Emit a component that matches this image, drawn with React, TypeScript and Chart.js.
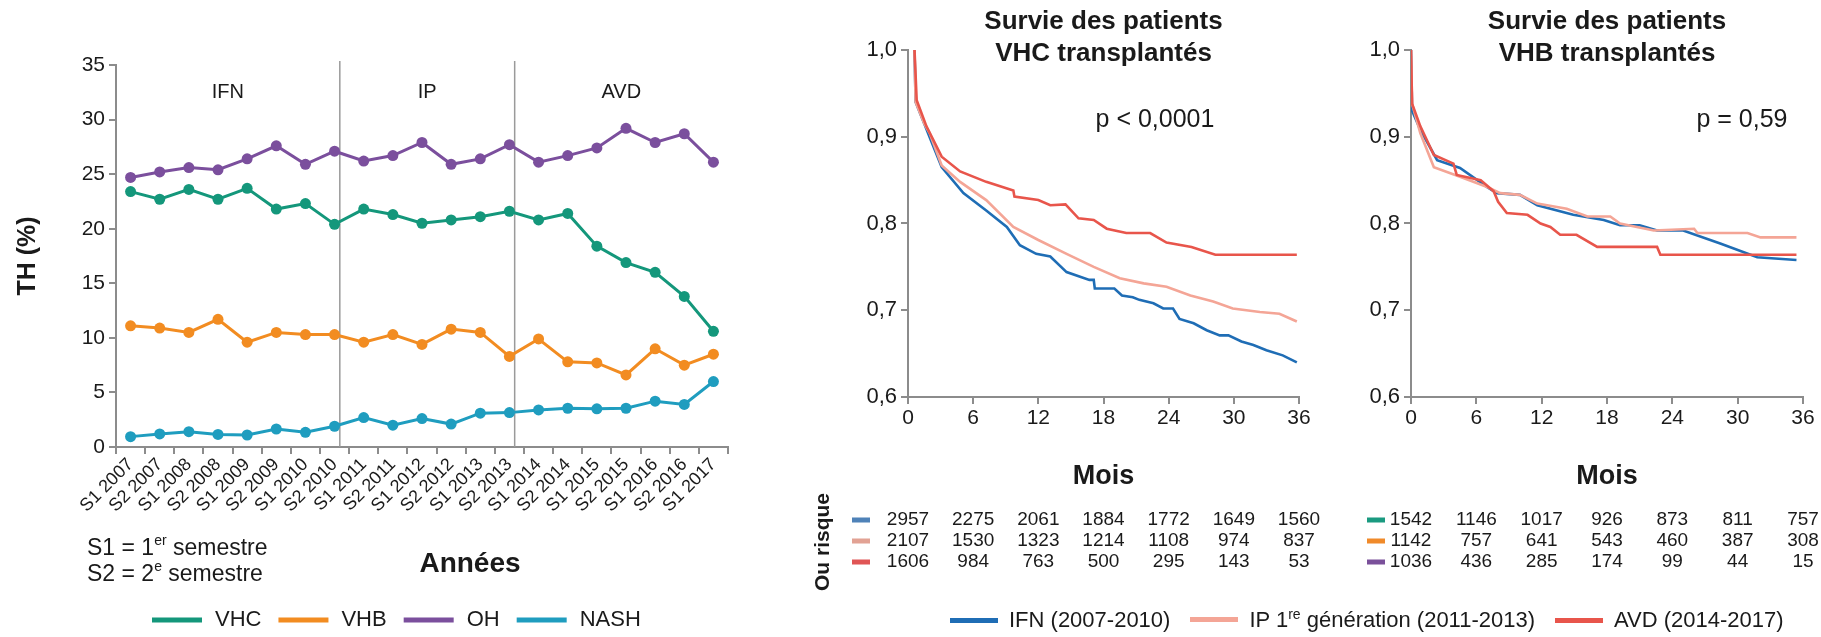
import React, { useEffect, useRef } from "react";
import { Chart, registerables } from "chart.js";

Chart.register(...registerables);

const FONT = "'Liberation Sans', Arial, Helvetica, sans-serif";
const AXIS_GRAY = "#8c8c8c";
const TEXT = "#1a1a1a";

// ---------- Left panel: TH (%) by semester ----------
const semesters = [
  "S1 2007", "S2 2007", "S1 2008", "S2 2008", "S1 2009", "S2 2009", "S1 2010", "S2 2010",
  "S1 2011", "S2 2011", "S1 2012", "S2 2012", "S1 2013", "S2 2013",
  "S1 2014", "S2 2014", "S1 2015", "S2 2015", "S1 2016", "S2 2016", "S1 2017",
];
const vhcRate = [23.4, 22.7, 23.6, 22.7, 23.7, 21.8, 22.3, 20.4, 21.8, 21.3, 20.5, 20.8, 21.1, 21.6, 20.8, 21.4, 18.4, 16.9, 16.0, 13.8, 10.6];
const vhbRate = [11.1, 10.9, 10.5, 11.7, 9.6, 10.5, 10.3, 10.3, 9.6, 10.3, 9.4, 10.8, 10.5, 8.3, 9.9, 7.8, 7.7, 6.6, 9.0, 7.5, 8.5];
const ohRate = [24.7, 25.2, 25.6, 25.4, 26.4, 27.6, 25.9, 27.1, 26.2, 26.7, 27.9, 25.9, 26.4, 27.7, 26.1, 26.7, 27.4, 29.2, 27.9, 28.7, 26.1];
const nashRate = [0.95, 1.2, 1.4, 1.15, 1.1, 1.65, 1.35, 1.9, 2.7, 2.0, 2.6, 2.1, 3.1, 3.15, 3.4, 3.55, 3.5, 3.55, 4.2, 3.9, 6.0];
const seriesNames = ["VHC", "VHB", "OH", "NASH"];
const seriesColors = ["#14977b", "#f28c21", "#7b4f9d", "#1f9dbf"];
const periodLabels = ["IFN", "IP", "AVD"];
const periodEnds = [7, 13]; // index of last semester of IFN and IP periods
const yTicksTH = { min: 0, max: 35, step: 5 };

// ---------- Survival panels ----------
const survTicks = { min: 0.6, max: 1.0, step: 0.1 };
const monthTicks = { min: 0, max: 36, step: 6 };
const groupNames = ["IFN (2007-2010)", "IP 1re génération (2011-2013)", "AVD (2014-2017)"];
const groupColors = ["#1f6db5", "#f4a596", "#e8554b"];

const vhcIfnMonths = [0.6, 0.7, 1.5, 2.2, 3.1, 5.1, 7.2, 9.1, 10.3, 11.8, 13.1, 14.6, 16.7, 17.1, 17.2, 19.0, 19.7, 20.7, 21.3, 22.6, 23.5, 24.4, 25.0, 26.3, 27.5, 28.7, 29.5, 30.7, 31.8, 33.0, 34.5, 35.8];
const vhcIfnSurv = [1.0, 0.94, 0.915, 0.893, 0.865, 0.835, 0.815, 0.796, 0.775, 0.765, 0.762, 0.744, 0.735, 0.735, 0.725, 0.725, 0.717, 0.715, 0.712, 0.708, 0.702, 0.702, 0.69, 0.685, 0.677, 0.671, 0.671, 0.664, 0.66, 0.654, 0.648, 0.64];
const vhcIpMonths = [0.6, 0.7, 1.5, 2.0, 3.1, 4.8, 7.2, 9.7, 12.0, 14.6, 17.1, 19.5, 21.7, 23.8, 26.0, 28.1, 29.9, 32.4, 34.2, 35.8];
const vhcIpSurv = [1.0, 0.94, 0.915, 0.904, 0.867, 0.848, 0.827, 0.796, 0.781, 0.765, 0.75, 0.737, 0.731, 0.727, 0.717, 0.71, 0.702, 0.698, 0.696, 0.687];
const vhcAvdMonths = [0.6, 0.8, 1.7, 3.1, 4.8, 7.2, 9.7, 9.8, 12.0, 13.1, 14.5, 15.7, 17.1, 18.3, 20.1, 22.3, 23.8, 26.1, 28.3, 35.8];
const vhcAvdSurv = [1.0, 0.942, 0.912, 0.877, 0.86, 0.848, 0.838, 0.831, 0.827, 0.821, 0.822, 0.806, 0.804, 0.794, 0.789, 0.789, 0.778, 0.773, 0.764, 0.764];

const vhbIfnMonths = [0, 0.1, 0.86, 2.4, 4.5, 7.0, 7.9, 10.0, 11.6, 14.9, 17.7, 19.2, 21.0, 22.6, 25.0, 28.4, 31.8, 35.4];
const vhbIfnSurv = [1.0, 0.93, 0.908, 0.873, 0.864, 0.842, 0.835, 0.833, 0.821, 0.81, 0.804, 0.798, 0.798, 0.792, 0.792, 0.777, 0.761, 0.758];
const vhbIpMonths = [0, 0.1, 0.86, 2.1, 4.5, 7.0, 8.2, 10.0, 11.6, 14.3, 16.2, 18.3, 19.2, 22.3, 26.0, 26.3, 30.9, 32.1, 35.4];
const vhbIpSurv = [1.0, 0.938, 0.904, 0.865, 0.854, 0.842, 0.835, 0.833, 0.823, 0.817, 0.808, 0.808, 0.8, 0.792, 0.794, 0.789, 0.789, 0.784, 0.784];
const vhbAvdMonths = [0, 0.1, 0.86, 2.1, 3.9, 4.2, 6.4, 7.6, 8.0, 8.8, 10.7, 11.9, 12.8, 13.7, 15.2, 17.1, 22.6, 22.9, 35.4];
const vhbAvdSurv = [1.0, 0.938, 0.912, 0.879, 0.869, 0.856, 0.85, 0.837, 0.825, 0.812, 0.81, 0.8, 0.796, 0.787, 0.787, 0.773, 0.773, 0.764, 0.764];

const riskMonths = [0, 6, 12, 18, 24, 30, 36];
const vhcRiskIfn = [2957, 2275, 2061, 1884, 1772, 1649, 1560];
const vhcRiskIp = [2107, 1530, 1323, 1214, 1108, 974, 837];
const vhcRiskAvd = [1606, 984, 763, 500, 295, 143, 53];
const vhbRiskIfn = [1542, 1146, 1017, 926, 873, 811, 757];
const vhbRiskIp = [1142, 757, 641, 543, 460, 387, 308];
const vhbRiskAvd = [1036, 436, 285, 174, 99, 44, 15];
const vhcRiskMarkers = ["#4f82b8", "#e2a294", "#e05555"];
const vhbRiskMarkers = ["#1a9a80", "#f08a2a", "#7a509a"];

type Part = { t: string; sup?: boolean };

function drawRich(
  ctx: CanvasRenderingContext2D,
  parts: Part[],
  x: number,
  y: number,
  size: number,
  align: "left" | "center",
  weight = "normal",
  color = TEXT
) {
  ctx.save();
  ctx.textBaseline = "middle";
  ctx.textAlign = "left";
  ctx.fillStyle = color;
  const fontFor = (p: Part) => `${weight} ${p.sup ? Math.round(size * 0.62) : size}px ${FONT}`;
  const widths = parts.map((p) => {
    ctx.font = fontFor(p);
    return ctx.measureText(p.t).width;
  });
  const total = widths.reduce((a, b) => a + b, 0);
  let cx = align === "center" ? x - total / 2 : x;
  parts.forEach((p, i) => {
    ctx.font = fontFor(p);
    ctx.fillText(p.t, cx, p.sup ? y - size * 0.32 : y);
    cx += widths[i];
  });
  ctx.restore();
}

const pts = (xs: number[], ys: number[]) => xs.map((x, i) => ({ x, y: ys[i] }));

function App() {
  const aRef = useRef<HTMLCanvasElement>(null);
  const bRef = useRef<HTMLCanvasElement>(null);
  const cRef = useRef<HTMLCanvasElement>(null);

  useEffect(() => {
    const charts: Chart[] = [];

    // ---------------- Left chart ----------------
    const leftDecor = {
      id: "leftDecor",
      beforeDatasetsDraw(chart: any) {
        const { ctx, chartArea, scales } = chart;
        const x = scales.x;
        const cw = (chartArea.right - chartArea.left) / semesters.length;
        ctx.save();
        ctx.strokeStyle = "#9a9a9a";
        ctx.lineWidth = 1.5;
        periodEnds.forEach((i) => {
          const px = x.getPixelForValue(i) + cw * 0.18;
          ctx.beginPath();
          ctx.moveTo(px, chartArea.top - 4);
          ctx.lineTo(px, chartArea.bottom);
          ctx.stroke();
        });
        ctx.restore();
      },
      afterDraw(chart: any) {
        const { ctx, chartArea, scales } = chart;
        const x = scales.x;
        const cw = (chartArea.right - chartArea.left) / semesters.length;
        const bounds = [chartArea.left, ...periodEnds.map((i) => x.getPixelForValue(i) + cw * 0.18), chartArea.right];
        periodLabels.forEach((lab, i) => {
          drawRich(ctx, [{ t: lab }], (bounds[i] + bounds[i + 1]) / 2, 92, 20, "center");
        });
        drawRich(ctx, [{ t: "S1 = 1" }, { t: "er", sup: true }, { t: " semestre" }], 87, 549, 23, "left");
        drawRich(ctx, [{ t: "S2 = 2" }, { t: "e", sup: true }, { t: " semestre" }], 87, 575, 23, "left");
        drawRich(ctx, [{ t: "Années" }], 470, 564, 28, "center", "bold");
        // legend
        ctx.save();
        let lx = 152;
        const ly = 620;
        ctx.font = `22px ${FONT}`;
        seriesNames.forEach((n, i) => {
          ctx.fillStyle = seriesColors[i];
          ctx.fillRect(lx, ly - 2.5, 50, 5);
          ctx.fillStyle = TEXT;
          ctx.textBaseline = "middle";
          ctx.textAlign = "left";
          ctx.fillText(n, lx + 63, ly);
          lx = lx + 63 + ctx.measureText(n).width + 17;
        });
        ctx.restore();
      },
    };

    const rates = [vhcRate, vhbRate, ohRate, nashRate];
    charts.push(
      new Chart(aRef.current!, {
        type: "line",
        data: {
          labels: semesters,
          datasets: rates.map((d, i) => ({
            label: seriesNames[i],
            data: d,
            borderColor: seriesColors[i],
            backgroundColor: seriesColors[i],
            borderWidth: 3,
            pointRadius: 5.5,
            pointHoverRadius: 5.5,
            pointBorderWidth: 0,
            tension: 0,
          })),
        },
        options: {
          animation: false,
          responsive: false,
          maintainAspectRatio: false,
          layout: { padding: { left: 0, right: 72, top: 65, bottom: 0 } },
          plugins: { legend: { display: false }, tooltip: { enabled: false } },
          scales: {
            x: {
              type: "category",
              offset: true,
              grid: { display: true, drawOnChartArea: false, drawTicks: true, tickLength: 7, color: AXIS_GRAY, lineWidth: 2, offset: true },
              border: { display: true, color: AXIS_GRAY, width: 2 },
              ticks: { minRotation: 45, maxRotation: 45, autoSkip: false, font: { family: FONT, size: 18 }, color: TEXT, padding: 0 },
              afterFit: (s: any) => { s.height = 190; },
            },
            y: {
              min: yTicksTH.min,
              max: yTicksTH.max,
              ticks: { stepSize: yTicksTH.step, font: { family: FONT, size: 21 }, color: TEXT, padding: 4 },
              grid: { display: true, drawOnChartArea: false, drawTicks: true, tickLength: 7, color: AXIS_GRAY, lineWidth: 2 },
              border: { display: true, color: AXIS_GRAY, width: 2 },
              title: { display: true, text: "TH (%)", font: { family: FONT, size: 25, weight: "bold" }, color: TEXT, padding: { top: 13, bottom: 0 } },
              afterFit: (s: any) => { s.width = 116; },
            },
          },
        },
        plugins: [leftDecor],
      } as any)
    );

    // ---------------- Survival charts ----------------
    function makeSurv(
      canvas: HTMLCanvasElement,
      cfg: {
        titleLines: string[];
        pText: string;
        pCenterX: number;
        series: { xs: number[]; ys: number[] }[];
        risk: number[][];
        markers: string[];
        markerX: number;
        yWidth: number;
        padRight: number;
        showRiskLabel: boolean;
      }
    ) {
      const decor = {
        id: "survDecor",
        afterDraw(chart: any) {
          const { ctx, chartArea, scales } = chart;
          const cx = (chartArea.left + chartArea.right) / 2;
          drawRich(ctx, [{ t: cfg.titleLines[0] }], cx, 22, 26, "center", "bold");
          drawRich(ctx, [{ t: cfg.titleLines[1] }], cx, 54, 26, "center", "bold");
          drawRich(ctx, [{ t: cfg.pText }], cfg.pCenterX, 120, 25, "center");
          drawRich(ctx, [{ t: "Mois" }], cx, 477, 27, "center", "bold");
          const rowsY = [520, 541, 562];
          ctx.save();
          cfg.risk.forEach((row, r) => {
            ctx.fillStyle = cfg.markers[r];
            ctx.fillRect(cfg.markerX, rowsY[r] - 2.5, 18, 5);
            ctx.fillStyle = TEXT;
            ctx.font = `19px ${FONT}`;
            ctx.textAlign = "center";
            ctx.textBaseline = "middle";
            row.forEach((v, i) => {
              ctx.fillText(String(v), scales.x.getPixelForValue(riskMonths[i]), rowsY[r]);
            });
          });
          if (cfg.showRiskLabel) {
            ctx.translate(23, 542);
            ctx.rotate(-Math.PI / 2);
            ctx.font = `bold 21px ${FONT}`;
            ctx.textAlign = "center";
            ctx.textBaseline = "middle";
            ctx.fillText("Ou risque", 0, 0);
          }
          ctx.restore();
        },
      };
      // draw AVD on top, then IP, then IFN
      const order = [2, 1, 0];
      return new Chart(canvas, {
        type: "line",
        data: {
          datasets: order.map((g) => ({
            label: groupNames[g],
            data: pts(cfg.series[g].xs, cfg.series[g].ys),
            borderColor: groupColors[g],
            backgroundColor: groupColors[g],
            borderWidth: 2.6,
            pointRadius: 0,
            tension: 0,
          })),
        },
        options: {
          animation: false,
          responsive: false,
          maintainAspectRatio: false,
          layout: { padding: { left: 0, right: cfg.padRight, top: 50, bottom: 0 } },
          plugins: { legend: { display: false }, tooltip: { enabled: false } },
          scales: {
            x: {
              type: "linear",
              min: monthTicks.min,
              max: monthTicks.max,
              ticks: { stepSize: monthTicks.step, font: { family: FONT, size: 21 }, color: TEXT, padding: 2 },
              grid: { display: true, drawOnChartArea: false, drawTicks: true, tickLength: 7, color: AXIS_GRAY, lineWidth: 2 },
              border: { display: true, color: AXIS_GRAY, width: 2 },
              afterFit: (s: any) => { s.height = 240; },
            },
            y: {
              min: survTicks.min,
              max: survTicks.max,
              ticks: {
                stepSize: survTicks.step,
                font: { family: FONT, size: 22 },
                color: TEXT,
                padding: 4,
                callback: (v: any) => Number(v).toFixed(1).replace(".", ","),
              },
              grid: { display: true, drawOnChartArea: false, drawTicks: true, tickLength: 7, color: AXIS_GRAY, lineWidth: 2 },
              border: { display: true, color: AXIS_GRAY, width: 2 },
              afterFit: (s: any) => { s.width = cfg.yWidth; },
            },
          },
        },
        plugins: [decor],
      } as any);
    }

    charts.push(
      makeSurv(bRef.current!, {
        titleLines: ["Survie des patients", "VHC transplantés"],
        pText: "p < 0,0001",
        pCenterX: 355,
        series: [
          { xs: vhcIfnMonths, ys: vhcIfnSurv },
          { xs: vhcIpMonths, ys: vhcIpSurv },
          { xs: vhcAvdMonths, ys: vhcAvdSurv },
        ],
        risk: [vhcRiskIfn, vhcRiskIp, vhcRiskAvd],
        markers: vhcRiskMarkers,
        markerX: 52,
        yWidth: 108,
        padRight: 21,
        showRiskLabel: true,
      })
    );
    charts.push(
      makeSurv(cRef.current!, {
        titleLines: ["Survie des patients", "VHB transplantés"],
        pText: "p = 0,59",
        pCenterX: 422,
        series: [
          { xs: vhbIfnMonths, ys: vhbIfnSurv },
          { xs: vhbIpMonths, ys: vhbIpSurv },
          { xs: vhbAvdMonths, ys: vhbAvdSurv },
        ],
        risk: [vhbRiskIfn, vhbRiskIp, vhbRiskAvd],
        markers: vhbRiskMarkers,
        markerX: 47,
        yWidth: 91,
        padRight: 18,
        showRiskLabel: false,
      })
    );

    return () => charts.forEach((c) => c.destroy());
  }, []);

  return (
    <div style={{ position: "absolute", left: 0, top: 0, width: 1821, height: 637, background: "#fff", fontFamily: FONT, color: TEXT }}>
      <canvas ref={aRef} width={800} height={637} style={{ position: "absolute", left: 0, top: 0 }} />
      <canvas ref={bRef} width={520} height={637} style={{ position: "absolute", left: 800, top: 0 }} />
      <canvas ref={cRef} width={501} height={637} style={{ position: "absolute", left: 1320, top: 0 }} />
      <div style={{ position: "absolute", left: 950, top: 606, height: 28, display: "flex", alignItems: "center", fontSize: 22, whiteSpace: "nowrap" }}>
        {groupNames.map((n, i) => (
          <div key={n} style={{ display: "flex", alignItems: "center", marginRight: 20 }}>
            <span style={{ display: "inline-block", width: 48, height: 5, background: groupColors[i], marginRight: 11 }} />
            <span>
              {i === 1 ? (
                <>
                  IP 1<sup style={{ fontSize: 14 }}>re</sup> génération (2011-2013)
                </>
              ) : (
                n
              )}
            </span>
          </div>
        ))}
      </div>
    </div>
  );
}

export default App;
